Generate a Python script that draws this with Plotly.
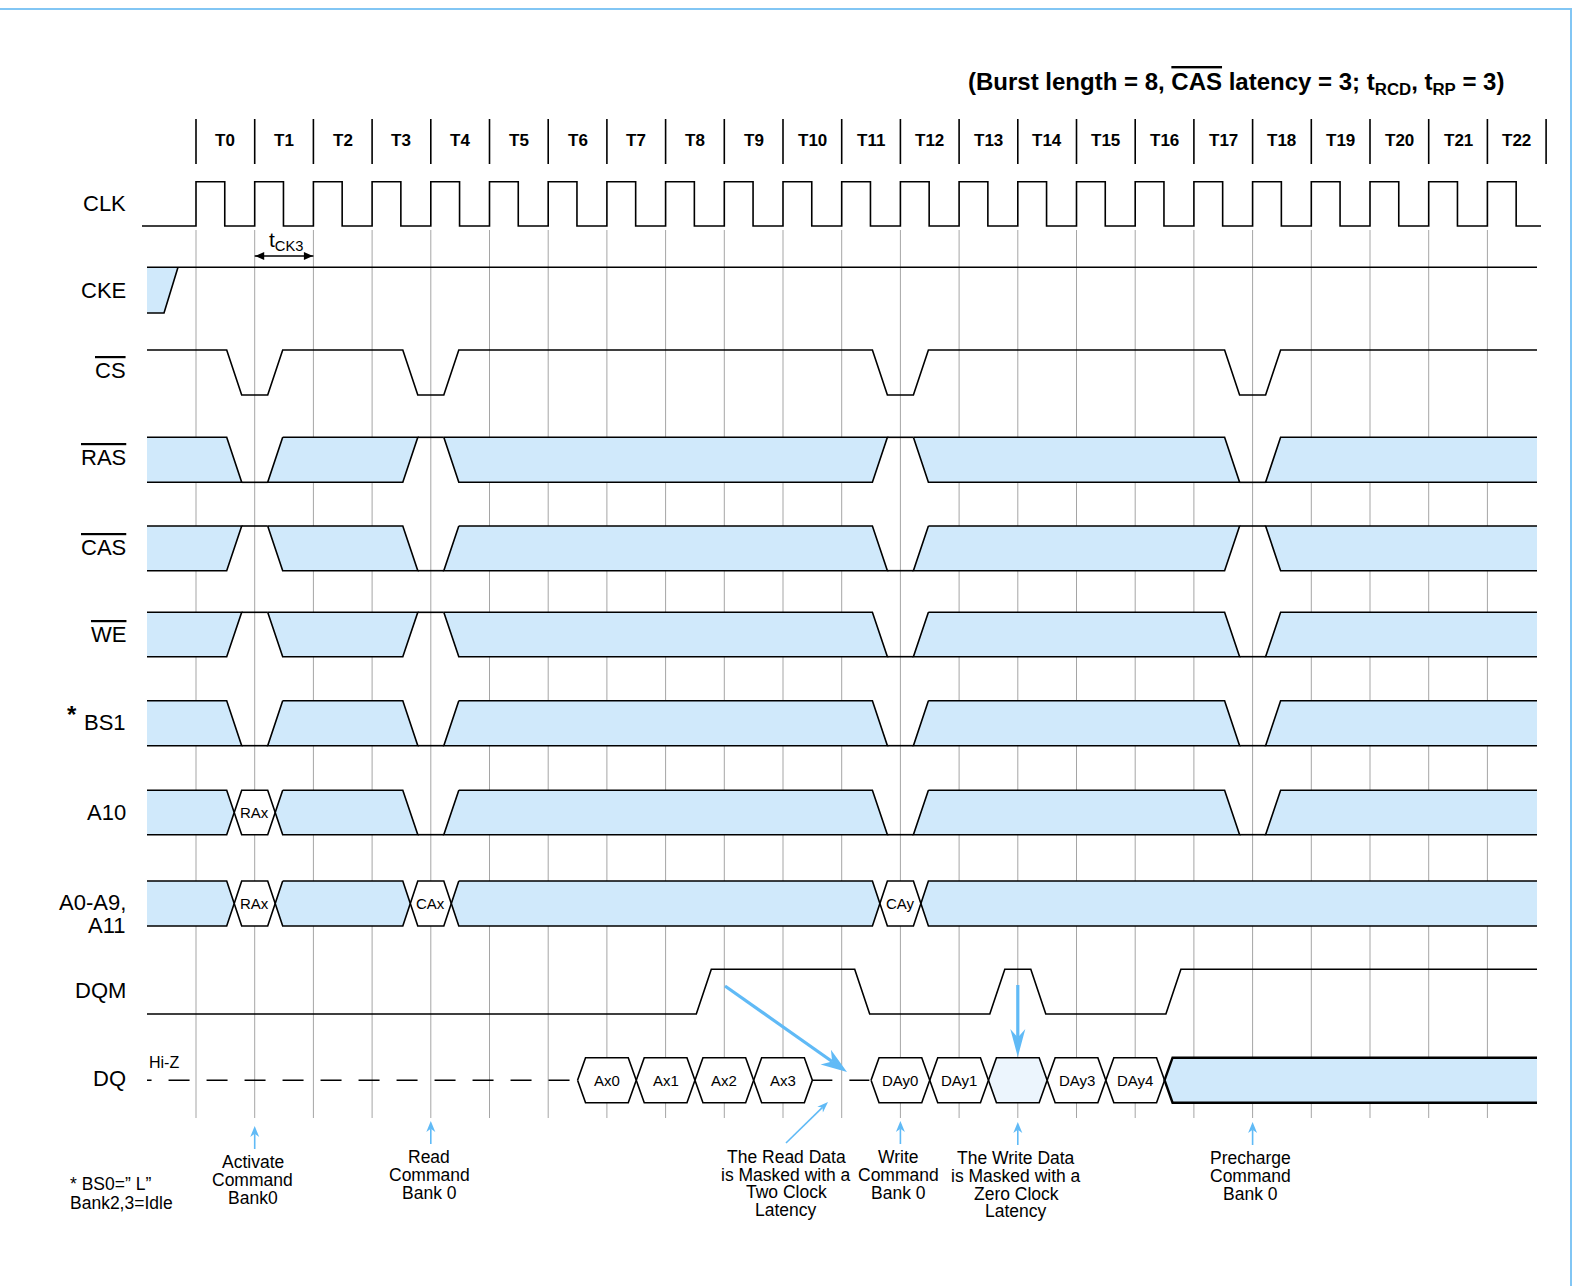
import math
import plotly.graph_objects as go

# ---------------- data ----------------
clock_labels = ["T%d" % i for i in range(23)]
cs_low_edges = [1, 4, 12, 18]
ras_states = {1: "L", 4: "H", 12: "H", 18: "L"}
cas_states = {1: "H", 4: "L", 12: "L", 18: "H"}
we_states = {1: "H", 4: "H", 12: "L", 18: "L"}
bs1_states = {1: "L", 4: "L", 12: "L", 18: "L"}
a10_states = {1: "RAx", 4: "L", 12: "L", 18: "L"}
addr_states = {1: "RAx", 4: "CAx", 12: "CAy"}
dqm_high_edges = [9, 10, 11, 14, 17, 18, 19, 20, 21, 22]
dq_read_edges = [7, 8, 9, 10]
dq_read_labels = ["Ax0", "Ax1", "Ax2", "Ax3"]
dq_masked_read_edge = 11
dq_write_edges = [12, 13, 14, 15, 16]
dq_write_labels = ["DAy0", "DAy1", "", "DAy3", "DAy4"]
dq_write_masked = [False, False, True, False, False]
note_edges = [1, 4, 12, 14, 18]
note_texts = [["Activate", "Command", "Bank0"],
              ["Read", "Command", "Bank 0"],
              ["Write", "Command", "Bank 0"],
              ["The Write Data", "is Masked with a", "Zero Clock", "Latency"],
              ["Precharge", "Command", "Bank 0"]]
read_mask_note = ["The Read Data", "is Masked with a", "Two Clock", "Latency"]
footnote = ["* BS0=\u201d L\u201d", "Bank2,3=Idle"]
signal_labels = ["CLK", "CKE", "CS", "RAS", "CAS", "WE", "BS1", "A10", "A0-A9,", "A11", "DQM", "DQ"]

# ---------------- geometry / style ----------------
X0, P = 196.0, 58.7          # pixel of T0 rising edge, pixels per clock


def tx(px):
    return (px - X0) / P


SA, SB = 28 / P, 13 / P
HS = 8 / P
XS, XE = tx(147), tx(1537)
BLUE = "rgb(208,233,251)"
MASK = "rgb(236,245,253)"
ABLUE = "rgb(96,186,246)"
GRID = "rgb(165,165,165)"
FONT = "Liberation Sans, Arial, sans-serif"
LW = 1.6

Y = dict(CLK=(181.7, 226), CKE=(267.3, 313), CS=(350, 395), RAS=(437.3, 482.3),
         CAS=(526, 570.7), WE=(612.3, 656.7), BS1=(700.7, 745.7), A10=(790.3, 834.7),
         ADDR=(881, 926), DQM=(969.3, 1014), DQ=(1057.7, 1102.7))

blue_x, blue_y = [], []
white_x, white_y = [], []
mask_x, mask_y = [], []
blk_x, blk_y = [], []
ann = []


def add(xs, ys, pts):
    for p in pts:
        xs.append(p[0]); ys.append(p[1])
    xs.append(None); ys.append(None)


def text(x, y, s, size, anchor="center", bold=False, yanchor="middle"):
    ann.append(dict(x=x, y=y, xref="x", yref="y", text=("<b>%s</b>" % s) if bold else s,
                    showarrow=False, xanchor=anchor, yanchor=yanchor,
                    font=dict(family=FONT, size=size, color="black")))


def bus(states, row):
    yt, yb = Y[row]
    ym = (yt + yb) / 2
    evs = sorted(states.items())
    bounds = [None] + evs + [None]
    for left, right in zip(bounds[:-1], bounds[1:]):
        if left is None:
            lt, lb, lp = (XS, yt), (XS, yb), None
        else:
            e, s = left
            c, d = e + SB, e + SA
            if s == "L":
                lt, lb, lp = (d, yt), (c, yb), None
            elif s == "H":
                lt, lb, lp = (c, yt), (d, yb), None
            else:
                lt, lb, lp = (d, yt), (d, yb), ((c + d) / 2, ym)
        if right is None:
            rt, rb, rp = (XE, yt), (XE, yb), None
        else:
            e, s = right
            a, b = e - SA, e - SB
            if s == "L":
                rt, rb, rp = (a, yt), (b, yb), None
            elif s == "H":
                rt, rb, rp = (b, yt), (a, yb), None
            else:
                rt, rb, rp = (a, yt), (a, yb), ((a + b) / 2, ym)
        poly = [lt, rt] + ([rp] if rp else []) + [rb, lb] + ([lp] if lp else [])
        add(blue_x, blue_y, poly)
        if left is None and right is None:
            add(blk_x, blk_y, [lt, rt]); add(blk_x, blk_y, [lb, rb])
        elif left is None:
            add(blk_x, blk_y, [lt, rt] + ([rp] if rp else []) + [rb, lb])
        elif right is None:
            add(blk_x, blk_y, [rt, lt] + ([lp] if lp else []) + [lb, rb])
        else:
            add(blk_x, blk_y, poly + [poly[0]])
    for e, s in evs:
        a, b, c, d = e - SA, e - SB, e + SB, e + SA
        if s == "L":
            add(blk_x, blk_y, [(b, yb), (c, yb)])
        elif s == "H":
            add(blk_x, blk_y, [(b, yt), (c, yt)])
        else:
            hx = [((a + b) / 2, ym), (b, yt), (c, yt), ((c + d) / 2, ym), (c, yb), (b, yb)]
            add(white_x, white_y, hx)
            add(blk_x, blk_y, hx + [hx[0]])
            text(e, ym, s, 15)


def line_wave(active_edges, row, active_high):
    yt, yb = Y[row]
    idle, act = (yb, yt) if active_high else (yt, yb)
    pts = [(XS, idle)]
    prev = False
    for k in range(len(clock_labels)):
        cur = k in active_edges
        if cur and not prev:
            pts += [(k - SA, idle), (k - SB, act)]
        elif prev and not cur:
            pts += [(k - 1 + SB, act), (k - 1 + SA, idle)]
        prev = cur
    pts.append((XE, act if prev else idle))
    add(blk_x, blk_y, pts)


# grid lines
grid_x, grid_y = [], []
for k in range(len(clock_labels)):
    add(grid_x, grid_y, [(k, 230), (k, 1118)])

# header bars
hdr_x, hdr_y = [], []
for k in range(len(clock_labels) + 1):
    add(hdr_x, hdr_y, [(k, 119), (k, 164)])
for k, lab in enumerate(clock_labels):
    text(k + 0.5, 140, lab, 17, bold=True)

# CLK
clk = [(tx(142), Y["CLK"][1])]
for k in range(len(clock_labels)):
    hi, lo = Y["CLK"]
    clk += [(k, lo), (k, hi), (k + 0.49, hi), (k + 0.49, lo)]
clk.append((tx(1541), Y["CLK"][1]))
add(blk_x, blk_y, clk)

# CKE
ct, cb = Y["CKE"]
add(blue_x, blue_y, [(XS, ct), (XS + 31 / P, ct), (XS + 17 / P, cb), (XS, cb)])
add(blk_x, blk_y, [(XS, ct), (XE, ct)])
add(blk_x, blk_y, [(XS + 31 / P, ct), (XS + 17 / P, cb), (XS, cb)])

# control / address
line_wave(cs_low_edges, "CS", active_high=False)
bus(ras_states, "RAS")
bus(cas_states, "CAS")
bus(we_states, "WE")
bus(bs1_states, "BS1")
bus(a10_states, "A10")
bus(addr_states, "ADDR")
line_wave(dqm_high_edges, "DQM", active_high=True)

# DQ
qt, qb = Y["DQ"]
qm = (qt + qb) / 2
dash1 = [(dq_read_edges[0] - 0.5 - 8 / P, qm), (XS, qm)]
dash2 = [(dq_masked_read_edge - 0.5, qm), (dq_masked_read_edge + 0.5, qm)]


def eye(k, label, masked):
    hx = [(k - 0.5, qm), (k - 0.5 + HS, qt), (k + 0.5 - HS, qt), (k + 0.5, qm),
          (k + 0.5 - HS, qb), (k - 0.5 + HS, qb)]
    if masked:
        add(mask_x, mask_y, hx)
    else:
        add(white_x, white_y, hx)
    add(blk_x, blk_y, hx + [hx[0]])
    if label:
        text(k, qm, label, 15)


for k, lab in zip(dq_read_edges, dq_read_labels):
    eye(k, lab, False)
for k, lab, m in zip(dq_write_edges, dq_write_labels, dq_write_masked):
    eye(k, lab, m)
bs = dq_write_edges[-1] + 0.5
band = [(bs, qm), (bs + HS, qt), (XE, qt), (XE, qb), (bs + HS, qb)]
add(blue_x, blue_y, band)
band_out = [(XE, qt), (bs + HS, qt), (bs, qm), (bs + HS, qb), (XE, qb)]

# arrows
arr_fill_x, arr_fill_y = [], []
arr_thin_x, arr_thin_y = [], []
arr_thick_x, arr_thick_y = [], []
blk_head_x, blk_head_y = [], []


def arrow(p0, p1, L, W, thick, notch=0.3, black=False):
    (x0, y0), (x1, y1) = p0, p1
    dx, dy = x1 - x0, y1 - y0
    n = math.hypot(dx, dy)
    ux, uy = dx / n, dy / n
    px, py = -uy, ux
    bx, by = x1 - ux * L, y1 - uy * L
    nx, ny = x1 - ux * L * (1 - notch), y1 - uy * L * (1 - notch)
    head = [(x1, y1), (bx + px * W / 2, by + py * W / 2), (nx, ny), (bx - px * W / 2, by - py * W / 2)]
    head = [(tx(a), b) for a, b in head]
    if black:
        add(blk_head_x, blk_head_y, head)
        return
    add(arr_fill_x, arr_fill_y, head)
    shaft = [(tx(x0), y0), (tx(nx), ny)]
    if thick:
        add(arr_thick_x, arr_thick_y, shaft)
    else:
        add(arr_thin_x, arr_thin_y, shaft)


def epx(k):
    return X0 + P * k


arrow((725, 986), (847, 1072), 26, 18, True)
arrow((epx(14), 985), (epx(14), 1057), 28, 15, True)
arrow((786, 1143), (828, 1102), 11, 8, False)
note_tail = [1149, 1144, 1144, 1145, 1145]
note_top = [1162, 1157, 1157, 1158, 1158]
for k, tail, top, lines in zip(note_edges, note_tail, note_top, note_texts):
    arrow((epx(k), tail), (epx(k), tail - 23), 11, 9, False)
    for i, s in enumerate(lines):
        text(k - 0.03, top + i * 17.8, s, 17.5)
for i, s in enumerate(read_mask_note):
    text(tx(786), 1157 + i * 17.6, s, 17.5)
for i, s in enumerate(footnote):
    text(tx(68), 1184 + i * 19, s, 17.5, anchor="left")

# tCK3 marker
tck_y = 256
add(blk_x, blk_y, [(1, tck_y), (2, tck_y)])
arrow((epx(1.5), tck_y), (epx(1) + 0.5, tck_y), 9, 8, False, notch=0, black=True)
arrow((epx(1.5), tck_y), (epx(2) - 0.5, tck_y), 9, 8, False, notch=0, black=True)
text(tx(286), 241, "t<sub>CK3</sub>", 21)

# signal labels
OV = "<span style='text-decoration:overline'>%s</span>"
lab_pos = [203, 290, 370, 457, 547, 634, 722, 812, 902, 925, 990, 1078]
lab_txt = ["CLK", "CKE", OV % "CS", OV % "RAS", OV % "CAS", OV % "WE", "BS1", "A10",
           "A0-A9,", "A11", "DQM", "DQ"]
for y, s in zip(lab_pos, lab_txt):
    text(tx(128), y, s, 22, anchor="right")
text(tx(72), 714, "<b>*</b>", 24, anchor="center")
text(tx(147), 1062, "Hi-Z", 16, anchor="left")

# title
text(tx(1506), 83, "(Burst length = 8, " + OV % "CAS" +
     " latency = 3; t<sub>RCD</sub>, t<sub>RP</sub> = 3)", 24, anchor="right", bold=True)

# ---------------- figure ----------------
fig = go.Figure()


def sc(x, y, **kw):
    fig.add_trace(go.Scatter(x=x, y=y, hoverinfo="skip", showlegend=False, **kw))


# frame
sc([tx(0), tx(1571), tx(1571)], [9, 9, 1290], mode="lines", line=dict(color="rgb(130,198,244)", width=2))
sc(grid_x, grid_y, mode="lines", line=dict(color=GRID, width=1))
sc(blue_x, blue_y, mode="lines", fill="toself", fillcolor=BLUE, line=dict(width=0))
sc(white_x, white_y, mode="lines", fill="toself", fillcolor="white", line=dict(width=0))
sc(mask_x, mask_y, mode="lines", fill="toself", fillcolor=MASK, line=dict(width=0))
sc(blk_x, blk_y, mode="lines", line=dict(color="black", width=LW))
sc([p[0] for p in band_out], [p[1] for p in band_out], mode="lines", line=dict(color="black", width=2.4))
sc([p[0] for p in dash1], [p[1] for p in dash1], mode="lines", line=dict(color="black", width=LW, dash="21px,17px"))
sc([p[0] for p in dash2], [p[1] for p in dash2], mode="lines", line=dict(color="black", width=LW, dash="20px,17px"))
sc(hdr_x, hdr_y, mode="lines", line=dict(color="black", width=1.6))
sc(arr_thin_x, arr_thin_y, mode="lines", line=dict(color=ABLUE, width=1.6))
sc(arr_thick_x, arr_thick_y, mode="lines", line=dict(color=ABLUE, width=3.2))
sc(arr_fill_x, arr_fill_y, mode="lines", fill="toself", fillcolor=ABLUE, line=dict(width=0))
sc(blk_head_x, blk_head_y, mode="lines", fill="toself", fillcolor="black", line=dict(width=0))

fig.update_layout(
    width=1574, height=1286, margin=dict(l=0, r=0, t=0, b=0),
    paper_bgcolor="white", plot_bgcolor="white", annotations=ann,
    xaxis=dict(range=[tx(0), tx(1574)], visible=False, fixedrange=True),
    yaxis=dict(range=[1286, 0], visible=False, fixedrange=True),
)
fig.write_html("out.html", config={"displayModeBar": False},
               post_script="document.body.style.margin='0';document.body.style.overflow='hidden';")
